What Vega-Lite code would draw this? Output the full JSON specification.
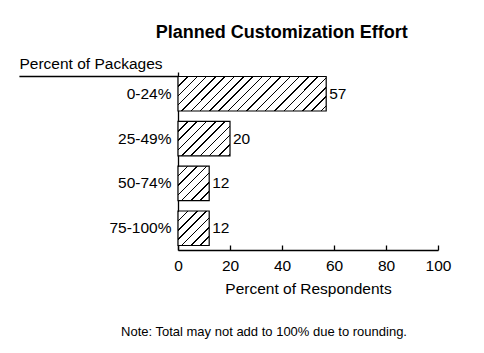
{
  "$schema": "https://vega.github.io/schema/vega-lite/v6.json",
  "padding": {"left": 18, "top": 24, "right": 10, "bottom": 10},
  "background": "white",
  "title": {"text": "Planned Customization Effort", "fontSize": 18, "fontWeight": "bold", "font": "Liberation Sans", "color": "black", "anchor": "middle", "offset": 14, "dx": 47},
  "config": {"view": {"stroke": null}, "font": "Liberation Sans"},
  "vconcat": [
    {
      "title": {"text": "Note:  Total may not add to 100% due to rounding.", "orient": "bottom", "fontSize": 13, "fontWeight": "normal", "color": "black", "anchor": "middle", "frame": "group", "dx": -44, "offset": 29},
      "width": 260,
      "height": 178,
      "data": {"values": [
        {"range": "0-24%", "pct": 57},
        {"range": "25-49%", "pct": 20},
        {"range": "50-74%", "pct": 12},
        {"range": "75-100%", "pct": 12}
      ]},
      "encoding": {
        "y": {"field": "range", "type": "nominal", "sort": ["0-24%", "25-49%", "50-74%", "75-100%"],
              "scale": {"domain": ["0-24%", "25-49%", "50-74%", "75-100%"], "paddingInner": 0.23, "paddingOuter": 0.1},
              "axis": {"title": "Percent of Packages", "titleAngle": 0, "titleX": -159, "titleY": -4, "titleAlign": "left", "titleBaseline": "alphabetic", "titleFontSize": 15.5, "titleFontWeight": "normal", "titleColor": "black",
                       "ticks": false, "labelPadding": 7, "labelFontSize": 15.5, "labelColor": "black", "domainColor": "black", "domainWidth": 1.3, "grid": false}},
        "x": {"field": "pct", "type": "quantitative", "scale": {"domain": [0, 100], "nice": false},
              "axis": {"title": "Percent of Respondents", "values": [0, 20, 40, 60, 80, 100], "tickSize": -5, "tickColor": "black", "tickWidth": 1.3, "domainColor": "black", "domainWidth": 1.3, "grid": false,
                       "labelFontSize": 15.5, "labelColor": "black", "labelPadding": 13, "labelFlush": false, "titleFontSize": 15.5, "titleFontWeight": "normal", "titleColor": "black", "titlePadding": 8}}
      },
      "layer": [
        {
          "mark": {"type": "bar", "stroke": "black", "strokeWidth": 1.2},
          "encoding": {
            "fill": {
              "condition": [
                {"test": "datum.pct === 57", "value": {"gradient": "linear", "x1": 0, "y1": 0, "x2": 1.1906, "y2": 0.2772, "stops": [
                  {"offset": 0, "color": "#000"}, {"offset": 0.008, "color": "#000"}, {"offset": 0.008, "color": "#fff"}, {"offset": 0.05, "color": "#fff"},
                  {"offset": 0.05, "color": "#000"}, {"offset": 0.058, "color": "#000"}, {"offset": 0.058, "color": "#fff"}, {"offset": 0.1, "color": "#fff"},
                  {"offset": 0.1, "color": "#000"}, {"offset": 0.108, "color": "#000"}, {"offset": 0.108, "color": "#fff"}, {"offset": 0.15, "color": "#fff"},
                  {"offset": 0.15, "color": "#000"}, {"offset": 0.158, "color": "#000"}, {"offset": 0.158, "color": "#fff"}, {"offset": 0.2, "color": "#fff"},
                  {"offset": 0.2, "color": "#000"}, {"offset": 0.208, "color": "#000"}, {"offset": 0.208, "color": "#fff"}, {"offset": 0.25, "color": "#fff"},
                  {"offset": 0.25, "color": "#000"}, {"offset": 0.258, "color": "#000"}, {"offset": 0.258, "color": "#fff"}, {"offset": 0.3, "color": "#fff"},
                  {"offset": 0.3, "color": "#000"}, {"offset": 0.308, "color": "#000"}, {"offset": 0.308, "color": "#fff"}, {"offset": 0.35, "color": "#fff"},
                  {"offset": 0.35, "color": "#000"}, {"offset": 0.358, "color": "#000"}, {"offset": 0.358, "color": "#fff"}, {"offset": 0.4, "color": "#fff"},
                  {"offset": 0.4, "color": "#000"}, {"offset": 0.408, "color": "#000"}, {"offset": 0.408, "color": "#fff"}, {"offset": 0.45, "color": "#fff"},
                  {"offset": 0.45, "color": "#000"}, {"offset": 0.458, "color": "#000"}, {"offset": 0.458, "color": "#fff"}, {"offset": 0.5, "color": "#fff"},
                  {"offset": 0.5, "color": "#000"}, {"offset": 0.508, "color": "#000"}, {"offset": 0.508, "color": "#fff"}, {"offset": 0.55, "color": "#fff"},
                  {"offset": 0.55, "color": "#000"}, {"offset": 0.558, "color": "#000"}, {"offset": 0.558, "color": "#fff"}, {"offset": 0.6, "color": "#fff"},
                  {"offset": 0.6, "color": "#000"}, {"offset": 0.608, "color": "#000"}, {"offset": 0.608, "color": "#fff"}, {"offset": 0.65, "color": "#fff"},
                  {"offset": 0.65, "color": "#000"}, {"offset": 0.658, "color": "#000"}, {"offset": 0.658, "color": "#fff"}, {"offset": 0.7, "color": "#fff"},
                  {"offset": 0.7, "color": "#000"}, {"offset": 0.708, "color": "#000"}, {"offset": 0.708, "color": "#fff"}, {"offset": 0.75, "color": "#fff"},
                  {"offset": 0.75, "color": "#000"}, {"offset": 0.758, "color": "#000"}, {"offset": 0.758, "color": "#fff"}, {"offset": 0.8, "color": "#fff"},
                  {"offset": 0.8, "color": "#000"}, {"offset": 0.808, "color": "#000"}, {"offset": 0.808, "color": "#fff"}, {"offset": 0.85, "color": "#fff"},
                  {"offset": 0.85, "color": "#000"}, {"offset": 0.858, "color": "#000"}, {"offset": 0.858, "color": "#fff"}, {"offset": 0.9, "color": "#fff"},
                  {"offset": 0.9, "color": "#000"}, {"offset": 0.908, "color": "#000"}, {"offset": 0.908, "color": "#fff"}, {"offset": 0.95, "color": "#fff"},
                  {"offset": 0.95, "color": "#000"}, {"offset": 0.958, "color": "#000"}, {"offset": 0.958, "color": "#fff"}, {"offset": 1, "color": "#fff"}
                ]}},
                {"test": "datum.pct === 20", "value": {"gradient": "linear", "x1": 0, "y1": 0, "x2": 1.2419, "y2": 0.824, "stops": [
                  {"offset": 0, "color": "#000"}, {"offset": 0.016, "color": "#000"}, {"offset": 0.016, "color": "#fff"}, {"offset": 0.1, "color": "#fff"},
                  {"offset": 0.1, "color": "#000"}, {"offset": 0.116, "color": "#000"}, {"offset": 0.116, "color": "#fff"}, {"offset": 0.2, "color": "#fff"},
                  {"offset": 0.2, "color": "#000"}, {"offset": 0.216, "color": "#000"}, {"offset": 0.216, "color": "#fff"}, {"offset": 0.3, "color": "#fff"},
                  {"offset": 0.3, "color": "#000"}, {"offset": 0.316, "color": "#000"}, {"offset": 0.316, "color": "#fff"}, {"offset": 0.4, "color": "#fff"},
                  {"offset": 0.4, "color": "#000"}, {"offset": 0.416, "color": "#000"}, {"offset": 0.416, "color": "#fff"}, {"offset": 0.5, "color": "#fff"},
                  {"offset": 0.5, "color": "#000"}, {"offset": 0.516, "color": "#000"}, {"offset": 0.516, "color": "#fff"}, {"offset": 0.6, "color": "#fff"},
                  {"offset": 0.6, "color": "#000"}, {"offset": 0.616, "color": "#000"}, {"offset": 0.616, "color": "#fff"}, {"offset": 0.7, "color": "#fff"},
                  {"offset": 0.7, "color": "#000"}, {"offset": 0.716, "color": "#000"}, {"offset": 0.716, "color": "#fff"}, {"offset": 0.8, "color": "#fff"},
                  {"offset": 0.8, "color": "#000"}, {"offset": 0.816, "color": "#000"}, {"offset": 0.816, "color": "#fff"}, {"offset": 0.9, "color": "#fff"},
                  {"offset": 0.9, "color": "#000"}, {"offset": 0.916, "color": "#000"}, {"offset": 0.916, "color": "#fff"}, {"offset": 1, "color": "#fff"}
                ]}}
              ],
              "value": {"gradient": "linear", "x1": 0, "y1": 0, "x2": 1.073, "y2": 1.1865, "stops": [
                {"offset": 0, "color": "#000"}, {"offset": 0.02, "color": "#000"}, {"offset": 0.02, "color": "#fff"}, {"offset": 0.125, "color": "#fff"},
                {"offset": 0.125, "color": "#000"}, {"offset": 0.145, "color": "#000"}, {"offset": 0.145, "color": "#fff"}, {"offset": 0.25, "color": "#fff"},
                {"offset": 0.25, "color": "#000"}, {"offset": 0.27, "color": "#000"}, {"offset": 0.27, "color": "#fff"}, {"offset": 0.375, "color": "#fff"},
                {"offset": 0.375, "color": "#000"}, {"offset": 0.395, "color": "#000"}, {"offset": 0.395, "color": "#fff"}, {"offset": 0.5, "color": "#fff"},
                {"offset": 0.5, "color": "#000"}, {"offset": 0.52, "color": "#000"}, {"offset": 0.52, "color": "#fff"}, {"offset": 0.625, "color": "#fff"},
                {"offset": 0.625, "color": "#000"}, {"offset": 0.645, "color": "#000"}, {"offset": 0.645, "color": "#fff"}, {"offset": 0.75, "color": "#fff"},
                {"offset": 0.75, "color": "#000"}, {"offset": 0.77, "color": "#000"}, {"offset": 0.77, "color": "#fff"}, {"offset": 0.875, "color": "#fff"},
                {"offset": 0.875, "color": "#000"}, {"offset": 0.895, "color": "#000"}, {"offset": 0.895, "color": "#fff"}, {"offset": 1, "color": "#fff"}
              ]}
            }
          }
        },
        {
          "mark": {"type": "text", "align": "left", "baseline": "middle", "dx": 3, "fontSize": 15.5, "color": "black"},
          "encoding": {"text": {"field": "pct", "type": "quantitative"}}
        },
        {
          "data": {"values": [{"start": -61, "end": 0, "range": "0-24%"}]},
          "mark": {"type": "rule", "color": "black", "strokeWidth": 1.3},
          "encoding": {
            "x": {"field": "start", "type": "quantitative"},
            "x2": {"field": "end"},
            "y": {"field": "range", "type": "nominal", "bandPosition": 0}
          }
        }
      ]
    }
  ]
}
